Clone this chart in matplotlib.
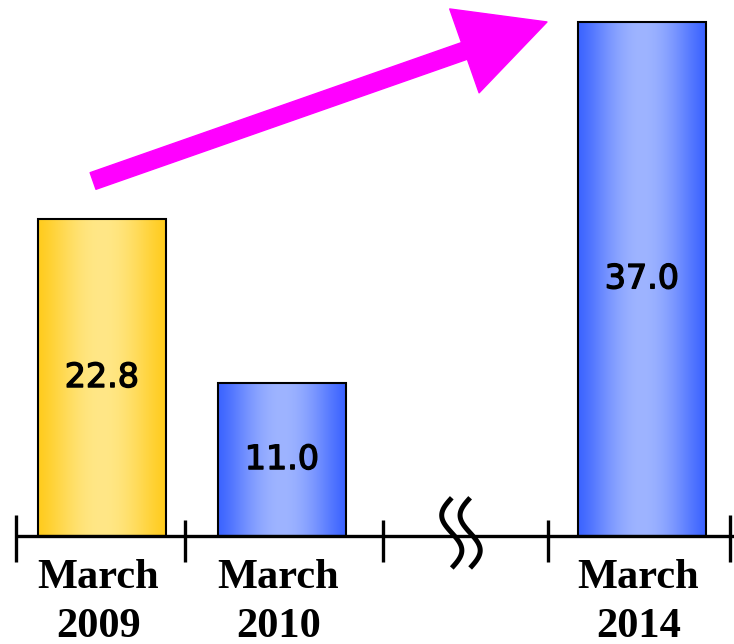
import numpy as np
import matplotlib
matplotlib.use('Agg')
import matplotlib.pyplot as plt
import matplotlib.patheffects as pe

# bar data
labels = ['March\n2009', 'March\n2010', 'March\n2014']
values = [22.8, 11.0, 37.0]
slots = [0, 1, 3]          # slot 2 is the axis break
edge_cols = [(255, 204, 30), (60, 100, 255), (60, 100, 255)]
mid_cols = [(255, 231, 135), (158, 180, 255), (158, 180, 255)]

tick_pos = [-0.48, 0.46, 1.56, 2.48, 3.49]


def gradient(edge, mid, n=256):
    t = np.linspace(0, 1, n)
    f = np.sin(np.pi * t) ** 1.3
    edge = np.array(edge) / 255.0
    mid = np.array(mid) / 255.0
    return edge[None, :] + (mid - edge)[None, :] * f[:, None]


fig = plt.figure(figsize=(7.34, 6.44), dpi=100)
ax = fig.add_axes([0, 0, 1, 1])
ax.axis('off')

bars = ax.bar(slots, values, width=0.71, fill=False, edgecolor='black',
              linewidth=1.5, zorder=3)
for b, e, m in zip(bars, edge_cols, mid_cols):
    x0 = b.get_x()
    ax.imshow(gradient(e, m)[None, :, :], extent=[x0, x0 + b.get_width(), 0, b.get_height()],
              aspect='auto', interpolation='bilinear', zorder=2)

# value labels, regular face thickened a little
for s, v in zip(slots, values):
    ax.text(s, v / 2, '%.1f' % v, ha='center', va='center', fontsize=24,
            family='DejaVu Sans', zorder=4,
            path_effects=[pe.withStroke(linewidth=1.0, foreground='black')])

xmin, xmax = -0.567, 3.511
ax.set_xlim(xmin, xmax)
ax.set_ylim(-7.77, 38.56)

# axis line and ticks
ax.hlines(0, tick_pos[0], xmax, color='black', linewidth=2.4, zorder=5)
for i, t in enumerate(tick_pos):
    top = 1.5 if i in (0, len(tick_pos) - 1) else 1.15
    ax.vlines(t, -1.87, top, color='black', linewidth=2.4, zorder=5)

# break marks
yy = np.linspace(2.75, -2.3, 60)
s = np.linspace(0, 1, 60)
for off in (-0.057, 0.045):
    ax.plot(2 + off - 0.056 * np.sin(2 * np.pi * s), yy, color='black',
            linewidth=3.6, solid_capstyle='butt', zorder=6)

# category labels, one text per line
for s_, lab in zip(slots, labels):
    for line, y in zip(lab.split('\n'), (-3.74, -7.27)):
        ax.text(s_ - 0.02, y, line, ha='center', va='baseline', fontsize=30.5,
                fontweight='bold', family='Liberation Serif')

# growth arrow
ax.annotate('', xy=(2.472, 36.98), xytext=(-0.05, 25.54),
            arrowprops=dict(arrowstyle='simple,head_length=63,head_width=64,tail_width=12.7',
                            mutation_scale=1, color='#FF00FF', shrinkA=0, shrinkB=0))

fig.savefig('out.png', dpi=100)
